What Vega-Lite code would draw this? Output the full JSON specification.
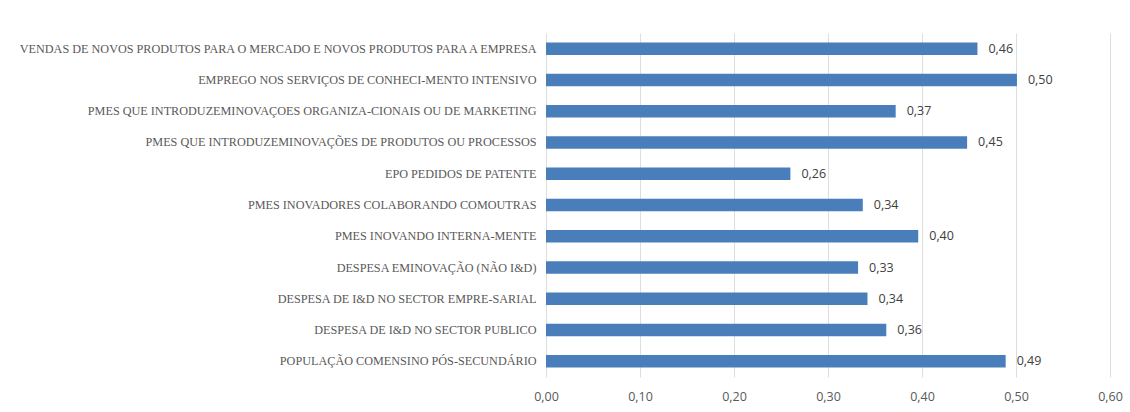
{
  "$schema": "https://vega.github.io/schema/vega-lite/v6.json",
  "width": 564,
  "height": 344,
  "autosize": "none",
  "padding": {"left": 546, "top": 33, "right": 20, "bottom": 35},
  "background": "white",
  "config": {
    "locale": {"number": {"decimal": ",", "thousands": ".", "grouping": [3], "currency": ["", " €"]}},
    "view": {"stroke": null}
  },
  "data": {"values": [
    {"cat": "VENDAS DE NOVOS PRODUTOS PARA O MERCADO E NOVOS PRODUTOS PARA A EMPRESA", "v": 0.459},
    {"cat": "EMPREGO NOS SERVIÇOS DE CONHECI-MENTO INTENSIVO", "v": 0.501},
    {"cat": "PMES QUE INTRODUZEMINOVAÇOES ORGANIZA-CIONAIS OU DE MARKETING", "v": 0.372},
    {"cat": "PMES QUE INTRODUZEMINOVAÇÕES DE PRODUTOS OU PROCESSOS", "v": 0.448},
    {"cat": "EPO PEDIDOS DE PATENTE", "v": 0.26},
    {"cat": "PMES INOVADORES COLABORANDO COMOUTRAS ", "v": 0.337},
    {"cat": "PMES INOVANDO INTERNA-MENTE", "v": 0.396},
    {"cat": "DESPESA EMINOVAÇÃO (NÃO I&D)", "v": 0.332},
    {"cat": "DESPESA DE I&D NO SECTOR EMPRE-SARIAL", "v": 0.342},
    {"cat": "DESPESA DE I&D NO SECTOR PUBLICO", "v": 0.362},
    {"cat": "POPULAÇÃO COMENSINO PÓS-SECUNDÁRIO", "v": 0.489}
  ]},
  "encoding": {
    "y": {"field": "cat", "type": "nominal", "sort": null, "title": null,
      "scale": {"paddingInner": 0.6, "paddingOuter": 0.3},
      "axis": {"domain": false, "ticks": false, "labelPadding": 10, "labelFont": "Liberation Serif", "labelFontSize": 12.2, "labelColor": "#595959", "labelLimit": 600}},
    "x": {"field": "v", "type": "quantitative", "title": null,
      "scale": {"domain": [0, 0.6], "nice": false},
      "axis": {"values": [0, 0.1, 0.2, 0.3, 0.4, 0.5, 0.6], "format": ".2f", "domain": false, "ticks": false, "grid": true, "gridColor": "#dedede", "labelPadding": 13, "labelFont": "Open Sans", "labelFontSize": 12.5, "labelColor": "#595959", "labelFlush": false}}
  },
  "layer": [
    {"mark": {"type": "bar", "color": "#4a7ebb"}},
    {"mark": {"type": "text", "align": "left", "dx": 11, "font": "Open Sans", "fontSize": 12.5, "color": "#404040"},
     "encoding": {"text": {"field": "v", "type": "quantitative", "format": ".2f"}}}
  ]
}
